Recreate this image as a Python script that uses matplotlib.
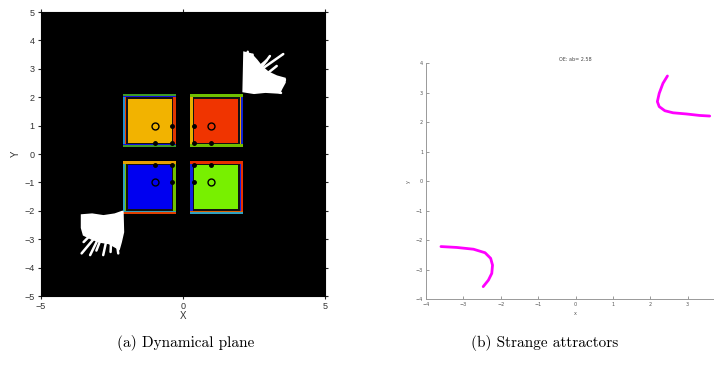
import matplotlib
matplotlib.use("Agg")
import matplotlib.pyplot as plt
from matplotlib.patches import Rectangle

W, H = 714, 367

# ---------------- data: dynamical plane ----------------
roots_x = [-1.0, 1.0, -1.0, 1.0]
roots_y = [1.0, 1.0, -1.0, -1.0]
basin_colors = ["#F2B300", "#F03400", "#0000F0", "#78F000"]

# stripes on each side of a basin square, listed from the outside in
# keys: ox = far vertical side, ix = near vertical side, oy = far horizontal, iy = near horizontal
basin_stripes = [
    {"ox": ["#1E8ED0", "#F04000"], "oy": ["#3C9A28", "#1010E0"],
     "ix": ["#E03800"], "iy": ["#3C9A28", "#1010E0"]},
    {"ox": ["#1020D0", "#E8A000"], "oy": ["#70C000"],
     "ix": ["#E8B000"], "iy": ["#70C000"]},
    {"ox": ["#30A0C0", "#70C000"], "oy": ["#E04000", "#30A0C0"],
     "ix": ["#70C000"], "iy": ["#E8A000"]},
    {"ox": ["#E83000", "#1020E0"], "oy": ["#30A0C0", "#E06000"],
     "ix": ["#1020E0"], "iy": ["#E83000"]},
]

# points on the boundary of each basin
edge_x = [-0.38, -1.0, -0.38, 0.38, 1.0, 0.38, -1.0, -0.38, -0.38, 0.38, 1.0, 0.38]
edge_y = [1.0, 0.38, 0.38, 1.0, 0.38, 0.38, -0.38, -1.0, -0.38, -1.0, -0.38, -0.38]

# divergent orbits (white)
orbit_ur_core_x = [2.15, 2.40, 2.60, 2.78, 3.00, 3.30, 3.59, 3.59, 3.47, 3.40, 2.90, 2.50, 2.12]
orbit_ur_core_y = [3.58, 3.52, 3.30, 3.07, 2.88, 2.74, 2.66, 2.52, 2.30, 2.15, 2.18, 2.14, 2.20]
orbit_ur_spike_x0 = [2.50, 2.50, 2.60, 2.20, 2.70, 2.40, 2.30, 2.80, 2.60]
orbit_ur_spike_y0 = [2.80, 2.70, 2.60, 2.90, 2.50, 2.40, 2.60, 2.70, 3.00]
orbit_ur_spike_x1 = [3.53, 3.06, 3.59, 2.28, 3.45, 3.20, 2.45, 3.30, 2.95]
orbit_ur_spike_y1 = [3.52, 3.45, 2.61, 3.60, 2.15, 2.25, 3.50, 3.10, 3.30]

orbit_ll_core_x = [-3.57, -3.20, -2.80, -2.40, -2.12, -2.10, -2.18, -2.25, -2.60, -2.90, -3.20, -3.50, -3.57]
orbit_ll_core_y = [-2.15, -2.12, -2.18, -2.12, -2.02, -2.75, -3.10, -3.35, -3.15, -3.10, -3.00, -2.85, -2.60]
orbit_ll_spike_x0 = [-2.90, -2.80, -2.60, -2.40, -2.70, -3.00, -2.50]
orbit_ll_spike_y0 = [-2.70, -2.60, -2.60, -2.60, -2.50, -2.60, -2.40]
orbit_ll_spike_x1 = [-3.57, -3.27, -2.81, -2.28, -3.05, -3.50, -2.55]
orbit_ll_spike_y1 = [-3.50, -3.56, -3.56, -3.50, -3.40, -3.10, -3.45]

# ---------------- data: strange attractors ----------------
attr_ur_x = [2.46, 2.34, 2.24, 2.19, 2.24, 2.39, 2.61, 2.97, 3.32, 3.59]
attr_ur_y = [3.57, 3.32, 2.98, 2.70, 2.53, 2.39, 2.32, 2.28, 2.23, 2.21]
attr_ll_x = [-3.60, -3.18, -2.73, -2.42, -2.27, -2.22, -2.24, -2.33, -2.47]
attr_ll_y = [-2.22, -2.25, -2.31, -2.43, -2.62, -2.85, -3.13, -3.36, -3.58]

ticks_a = [-5, 0, 5]
ticks_bx = [-4, -3, -2, -1, 0, 1, 2, 3]
ticks_by = [-4, -3, -2, -1, 0, 1, 2, 3, 4]

fig = plt.figure(figsize=(W / 100, H / 100), dpi=100)
fig.patch.set_facecolor("white")

# ---------------- left panel ----------------
ax = fig.add_axes([41 / W, (H - 296) / H, 284 / W, 284 / H])
ax.set_facecolor("black")
ax.set_xlim(-5, 5)
ax.set_ylim(-5, 5)

NEAR, NEAR_FRAME, NEAR_IN = 0.26, 0.34, 0.40
FAR_IN, FAR_FRAME, FAR = 1.93, 2.00, 2.10


def span(sign, a, b):
    lo, hi = sorted((sign * a, sign * b))
    return lo, hi


for rx, ry, col, st in zip(roots_x, roots_y, basin_colors, basin_stripes):
    sx = 1 if rx > 0 else -1
    sy = 1 if ry > 0 else -1
    x0, x1 = span(sx, NEAR, FAR)
    y0, y1 = span(sy, NEAR, FAR)
    ax.add_patch(Rectangle((x0, y0), x1 - x0, y1 - y0, color="black", lw=0))
    # vertical sides
    for key, a, b in (("ox", FAR, FAR_FRAME), ("ix", NEAR, NEAR_FRAME)):
        cols = st[key]
        step = (b - a) / len(cols)
        for i, c in enumerate(cols):
            lo, hi = span(sx, a + i * step, a + (i + 1) * step)
            ax.add_patch(Rectangle((lo, y0), hi - lo, y1 - y0, color=c, lw=0))
    # horizontal sides
    for key, a, b in (("oy", FAR, FAR_FRAME), ("iy", NEAR, NEAR_FRAME)):
        cols = st[key]
        step = (b - a) / len(cols)
        for i, c in enumerate(cols):
            lo, hi = span(sy, a + i * step, a + (i + 1) * step)
            ax.add_patch(Rectangle((x0, lo), x1 - x0, hi - lo, color=c, lw=0))
    # black frame around the basin
    fx0, fx1 = span(sx, NEAR_FRAME, FAR_FRAME)
    fy0, fy1 = span(sy, NEAR_FRAME, FAR_FRAME)
    ax.add_patch(Rectangle((fx0, fy0), fx1 - fx0, fy1 - fy0, color="#111111", lw=0))
    ix0, ix1 = span(sx, NEAR_IN, FAR_IN)
    iy0, iy1 = span(sy, NEAR_IN, FAR_IN)
    ax.add_patch(Rectangle((ix0, iy0), ix1 - ix0, iy1 - iy0, color=col, lw=0))

ax.plot(roots_x, roots_y, "o", ms=5, mfc="none", mec="black", mew=1.0, zorder=5)
ax.plot(edge_x, edge_y, "o", ms=2.5, mfc="black", mec="black", zorder=5)

for cx, cy, sx0, sy0, sx1, sy1 in (
    (orbit_ur_core_x, orbit_ur_core_y, orbit_ur_spike_x0, orbit_ur_spike_y0,
     orbit_ur_spike_x1, orbit_ur_spike_y1),
    (orbit_ll_core_x, orbit_ll_core_y, orbit_ll_spike_x0, orbit_ll_spike_y0,
     orbit_ll_spike_x1, orbit_ll_spike_y1),
):
    ax.fill(cx, cy, color="white", lw=1.2, ec="white", zorder=4)
    for a, b, c, d in zip(sx0, sy0, sx1, sy1):
        ax.plot([a, c], [b, d], color="white", lw=1.8, solid_capstyle="round", zorder=4)

ax.set_xticks(ticks_a)
ax.set_yticks(list(range(-5, 6)))
ax.tick_params(direction="out", length=2.5, width=0.8, colors="#222222",
               labelsize=6.5, top=True, right=True, pad=2)
for lab in ax.get_xticklabels() + ax.get_yticklabels():
    lab.set_color("#333333")
    lab.set_family("Liberation Sans")
for s in ax.spines.values():
    s.set_color("black")
    s.set_linewidth(0.8)
ax.set_xlabel("X", fontsize=7, color="#333333", labelpad=0, family="Liberation Sans")
ax.set_ylabel("Y", fontsize=7, color="#333333", labelpad=3, family="Liberation Sans")

# ---------------- right panel ----------------
bx = fig.add_axes([426 / W, (H - 299) / H, 299 / W, (299 - 63.3) / H])
bx.set_xlim(-4, 4)
bx.set_ylim(-4, 4)
bx.plot(attr_ur_x, attr_ur_y, color="#FF00FF", lw=2.0, solid_capstyle="round")
bx.plot(attr_ll_x, attr_ll_y, color="#FF00FF", lw=2.0, solid_capstyle="round")
bx.set_xticks(ticks_bx)
bx.set_yticks(ticks_by)
bx.tick_params(direction="in", length=2.5, width=0.6, colors="#888888",
               labelsize=3.5, labelcolor="#555555", pad=2)
for side in ("top", "right"):
    bx.spines[side].set_visible(False)
for side in ("left", "bottom"):
    bx.spines[side].set_color("#999999")
    bx.spines[side].set_linewidth(0.7)
bx.set_xlabel("x", fontsize=3.5, color="#555555", labelpad=3)
bx.set_ylabel("y", fontsize=3.5, color="#555555", labelpad=4)
bx.set_title("OE: ab= 2.58", fontsize=3.5, color="#444444", pad=2)

# ---------------- captions ----------------
fig.text(186 / W, 1 - 343 / H, "(a) Dynamical plane", ha="center", va="center",
         fontsize=11, family="cmr10")
fig.text(545 / W, 1 - 343 / H, "(b) Strange attractors", ha="center", va="center",
         fontsize=11, family="cmr10")

fig.savefig("out.png", dpi=100)
